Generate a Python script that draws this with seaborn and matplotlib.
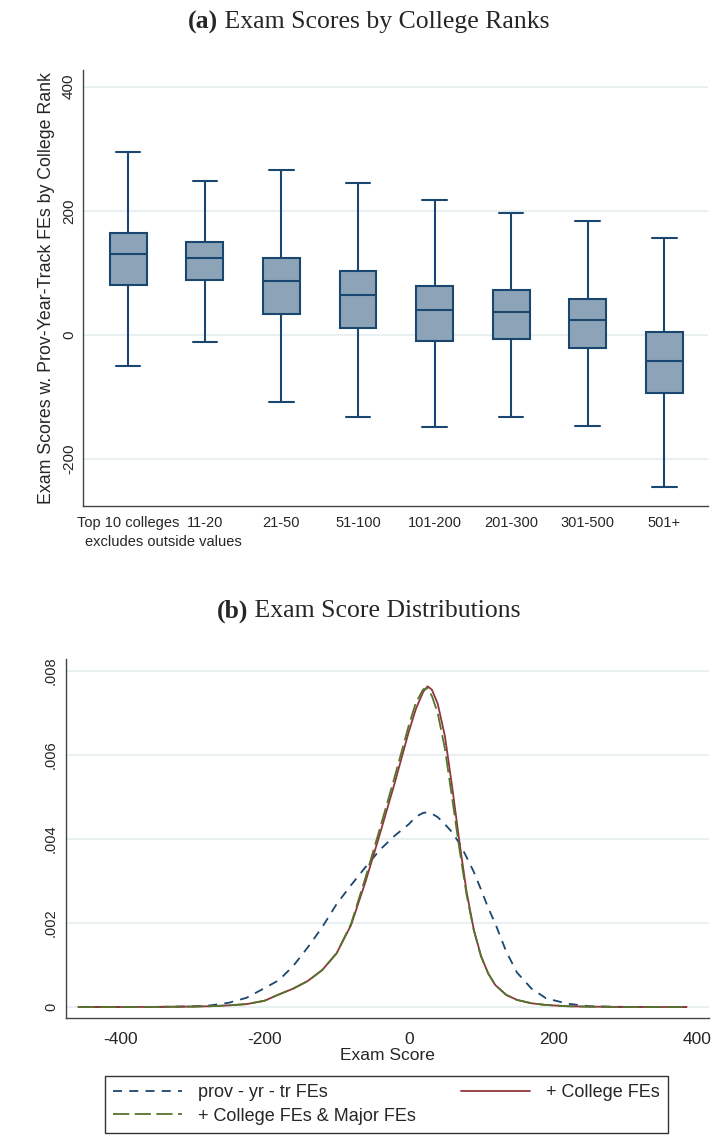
import numpy as np
import pandas as pd
import matplotlib
matplotlib.use("Agg")
import matplotlib.pyplot as plt
import seaborn as sns

# ======================================
# DATA
# ======================================

# panel (a): box summaries per college-rank group
rank_groups = ["Top 10 colleges", "11-20", "21-50", "51-100",
               "101-200", "201-300", "301-500", "501+"]
whisker_low = [-50, -11, -108, -132, -148, -132, -147, -246]
box_q1 = [80, 88, 33, 11, -10, -7, -22, -94]
box_median = [130, 124, 87, 65, 40, 37, 24, -43]
box_q3 = [164, 150, 124, 103, 79, 73, 58, 4]
whisker_high = [294, 248, 265, 245, 218, 196, 183, 156]

score_ticks = [-200, 0, 200, 400]
score_ticklabels = ["-200", "0", "200", "400"]

# panel (b): kernel densities (x 10^-3) on a common grid of exam scores
exam_score = [-458, -400, -350, -300, -275, -250, -225, -200, -180, -160,
              -140, -120, -100, -80, -60, -40, -20, 0, 10, 20,
              26, 32, 40, 50, 60, 70, 80, 90, 100, 110,
              120, 135, 150, 170, 190, 220, 250, 300, 385]
dens_prov = [0.0, 0.002, 0.005, 0.015, 0.04, 0.10, 0.22, 0.45, 0.64, 0.98,
             1.42, 1.90, 2.45, 2.90, 3.33, 3.74, 4.07, 4.35, 4.53, 4.62,
             4.63, 4.60, 4.52, 4.35, 4.16, 3.90, 3.57, 3.22, 2.80, 2.36,
             1.98, 1.32, 0.82, 0.44, 0.21, 0.08, 0.02, 0.004, 0.0]
dens_college = [0.0, 0.001, 0.004, 0.012, 0.02, 0.04, 0.07, 0.15, 0.30, 0.44,
                0.62, 0.88, 1.28, 1.95, 2.98, 4.12, 5.30, 6.55, 7.10, 7.50,
                7.63, 7.55, 7.22, 6.45, 5.25, 3.95, 2.75, 1.85, 1.22, 0.80,
                0.52, 0.29, 0.17, 0.09, 0.05, 0.02, 0.01, 0.002, 0.0]
dens_major = [0.0, 0.001, 0.004, 0.012, 0.02, 0.04, 0.07, 0.15, 0.30, 0.44,
              0.62, 0.88, 1.28, 1.98, 3.08, 4.25, 5.45, 6.70, 7.25, 7.56,
              7.58, 7.40, 7.00, 6.15, 4.98, 3.78, 2.68, 1.83, 1.21, 0.80,
              0.52, 0.29, 0.17, 0.09, 0.05, 0.02, 0.01, 0.002, 0.0]

density_ticks = [0, 0.002, 0.004, 0.006, 0.008]
density_ticklabels = ["0", ".002", ".004", ".006", ".008"]
exam_ticks = [-400, -200, 0, 200, 400]
exam_ticklabels = ["-400", "-200", "0", "200", "400"]

series_labels = ["prov - yr - tr FEs", "+ College FEs", "+ College FEs & Major FEs"]

# ======================================
# STYLE
# ======================================

sns.set_style("white")
plt.rcParams["font.family"] = ["Liberation Sans", "DejaVu Sans"]

NAVY = "#1a476f"
MAROON = "#90353b"
GREEN = "#55752f"
BOX_FILL = "#8da3b8"
GRID = "#e6eff1"
SPINE = "#444444"

W, H = 719, 1136
fig = plt.figure(figsize=(W / 100, H / 100), dpi=100)


def fig_rect(left, top, right, bottom):
    return [left / W, 1 - bottom / H, (right - left) / W, (bottom - top) / H]


def style_axes(ax):
    for side in ["top", "right"]:
        ax.spines[side].set_visible(False)
    for side in ["left", "bottom"]:
        ax.spines[side].set_color(SPINE)
        ax.spines[side].set_linewidth(1.0)
    ax.grid(axis="y", color=GRID, linewidth=1.3)
    ax.grid(axis="x", visible=False)
    ax.set_axisbelow(True)


def panel_title(tag, text, y_px, x_center=369, size=18.5):
    r = fig.canvas.get_renderer()
    t1 = fig.text(0, 1 - y_px / H, tag, fontsize=size, fontweight="bold",
                  family="Liberation Serif", va="center")
    t2 = fig.text(0, 1 - y_px / H, " " + text, fontsize=size,
                  family="Liberation Serif", va="center")
    w1 = t1.get_window_extent(r).width
    w2 = t2.get_window_extent(r).width
    x0 = x_center - (w1 + w2) / 2
    t1.set_x(x0 / W)
    t2.set_x((x0 + w1) / W)


# ======================================
# PANEL (a): BOX PLOTS
# ======================================

box_rows = []
for i, grp in enumerate(rank_groups):
    for v in [whisker_low[i], box_q1[i], box_median[i], box_q3[i], whisker_high[i]]:
        box_rows.append({"rank": grp, "score": v})
box_df = pd.DataFrame(box_rows)

ax1 = fig.add_axes(fig_rect(83, 70, 708, 506))
style_axes(ax1)
sns.boxplot(data=box_df, x="rank", y="score", order=rank_groups, ax=ax1,
            whis=(0, 100), width=0.48, color=BOX_FILL, saturation=1,
            linecolor=NAVY, linewidth=1.5, fliersize=0, capwidths=0.32)
ax1.set_xlim(-0.59, 7.57)
ax1.set_ylim(-276, 427)
ax1.set_yticks(score_ticks)
ax1.set_yticklabels(score_ticklabels)
ax1.tick_params(axis="y", length=4.5, width=1, color=SPINE, pad=0.6,
                labelsize=11, labelrotation=90)
for lbl in ax1.get_yticklabels():
    lbl.set_va("center")
ax1.tick_params(axis="x", length=0, pad=7, labelsize=10.5)
ax1.set_xlabel("")
ax1.set_ylabel("Exam Scores w. Prov-Year-Track FEs by College Rank", fontsize=12.8)
ax1.yaxis.set_label_coords(-0.044, 0.5)
fig.text(163 / W, 1 - 542 / H, "excludes outside values", fontsize=10.5,
         ha="center", va="center")
panel_title("(a)", "Exam Scores by College Ranks", 22)

# ======================================
# PANEL (b): DENSITIES
# ======================================

ax2 = fig.add_axes(fig_rect(66, 659, 709, 1018))
style_axes(ax2)
scale = 1e-3
sns.lineplot(x=exam_score, y=[d * scale for d in dens_prov], ax=ax2,
             color=NAVY, linewidth=1.3, label=series_labels[0])
ax2.lines[-1].set_dashes([5, 4])
sns.lineplot(x=exam_score, y=[d * scale for d in dens_college], ax=ax2,
             color=MAROON, linewidth=1.3, label=series_labels[1])
sns.lineplot(x=exam_score, y=[d * scale for d in dens_major], ax=ax2,
             color=GREEN, linewidth=1.3, label=series_labels[2])
ax2.lines[-1].set_dashes([9, 3])

ax2.set_xlim(-475, 416)
ax2.set_ylim(-0.00026, 0.00828)
ax2.set_xticks(exam_ticks)
ax2.set_xticklabels(exam_ticklabels)
ax2.set_yticks(density_ticks)
ax2.set_yticklabels(density_ticklabels)
ax2.tick_params(axis="y", length=4.5, width=1, color=SPINE, pad=1.2,
                labelsize=10.5, labelrotation=90)
for lbl in ax2.get_yticklabels():
    lbl.set_va("center")
ax2.tick_params(axis="x", length=6, width=1, color=SPINE, pad=4, labelsize=12.5)
ax2.set_xlabel("Exam Score", fontsize=12.5, labelpad=1)
ax2.set_ylabel("")

handles, labels = ax2.get_legend_handles_labels()
ax2.get_legend().remove()
order = [0, 2, 1]
leg = fig.legend([handles[i] for i in order], [labels[i] for i in order],
                 ncol=2, loc="upper left", mode="expand",
                 bbox_to_anchor=(105 / W, 1 - 1076 / H, 563 / W, 0),
                 frameon=True, fancybox=False, fontsize=13, handlelength=3.8,
                 handletextpad=0.9, labelspacing=0.36, borderpad=0.45,
                 borderaxespad=0)
leg.get_frame().set_edgecolor("black")
leg.get_frame().set_linewidth(1.0)
panel_title("(b)", "Exam Score Distributions", 611)

fig.savefig("out.png", dpi=100)
